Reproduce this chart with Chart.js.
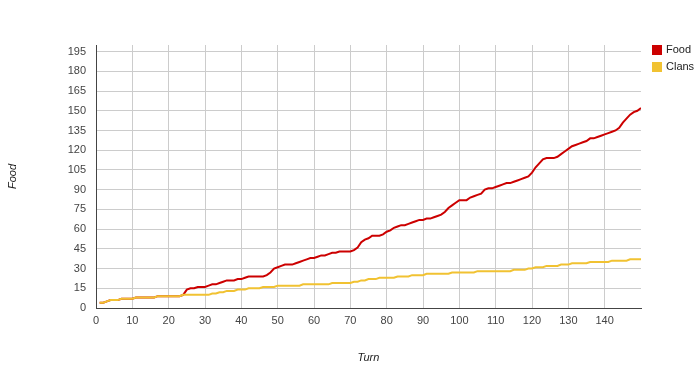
<!DOCTYPE html>
<html>
<head>
<meta charset="utf-8">
<script src="https://cdn.jsdelivr.net/npm/chart.js@4.4.0/dist/chart.umd.min.js"></script>
<style>
  html, body { margin: 0; padding: 0; background: #fff; }
  #wrap { width: 700px; height: 378px; }
</style>
</head>
<body>
<div id="wrap"><canvas id="chart" width="700" height="378"></canvas></div>
<script>
const food = [
    4, 4, 5, 6, 6, 6, 7, 7, 7, 7,
    8, 8, 8, 8, 8, 8, 9, 9, 9, 9,
    9, 9, 9, 10, 14, 15, 15, 16, 16, 16,
    17, 18, 18, 19, 20, 21, 21, 21, 22, 22,
    23, 24, 24, 24, 24, 24, 25, 27, 30, 31,
    32, 33, 33, 33, 34, 35, 36, 37, 38, 38,
    39, 40, 40, 41, 42, 42, 43, 43, 43, 43,
    44, 46, 50, 52, 53, 55, 55, 55, 56, 58,
    59, 61, 62, 63, 63, 64, 65, 66, 67, 67,
    68, 68, 69, 70, 71, 73, 76, 78, 80, 82,
    82, 82, 84, 85, 86, 87, 90, 91, 91, 92,
    93, 94, 95, 95, 96, 97, 98, 99, 100, 103,
    107, 110, 113, 114, 114, 114, 115, 117, 119, 121,
    123, 124, 125, 126, 127, 129, 129, 130, 131, 132,
    133, 134, 135, 137, 141, 144, 147, 149, 150, 152
];
const clans = [
    4, 4, 5, 6, 6, 6, 7, 7, 7, 7,
    8, 8, 8, 8, 8, 8, 9, 9, 9, 9,
    9, 9, 9, 10, 10, 10, 10, 10, 10, 10,
    10, 11, 11, 12, 12, 13, 13, 13, 14, 14,
    14, 15, 15, 15, 15, 16, 16, 16, 16, 17,
    17, 17, 17, 17, 17, 17, 18, 18, 18, 18,
    18, 18, 18, 18, 19, 19, 19, 19, 19, 19,
    20, 20, 21, 21, 22, 22, 22, 23, 23, 23,
    23, 23, 24, 24, 24, 24, 25, 25, 25, 25,
    26, 26, 26, 26, 26, 26, 26, 27, 27, 27,
    27, 27, 27, 27, 28, 28, 28, 28, 28, 28,
    28, 28, 28, 28, 29, 29, 29, 29, 30, 30,
    31, 31, 31, 32, 32, 32, 32, 33, 33, 33,
    34, 34, 34, 34, 34, 35, 35, 35, 35, 35,
    35, 36, 36, 36, 36, 36, 37, 37, 37, 37
];
const turns = food.map((_, i) => i + 1);
const xTicks = [0, 10, 20, 30, 40, 50, 60, 70, 80, 90, 100, 110, 120, 130, 140];
const yTicks = [0, 15, 30, 45, 60, 75, 90, 105, 120, 135, 150, 165, 180, 195];

const FONT = "Arial, 'Liberation Sans', sans-serif";

// legend drawn top-right like the original
const sideLegend = {
    id: "sideLegend",
    afterDraw(chart) {
        const ctx = chart.ctx;
        ctx.save();
        ctx.font = "11px " + FONT;
        ctx.textBaseline = "middle";
        chart.data.datasets.forEach((ds, i) => {
            const y = 50 + i * 17;
            ctx.fillStyle = ds.borderColor;
            ctx.fillRect(652, y - 5, 10, 10);
            ctx.fillStyle = "#222";
            ctx.fillText(ds.label, 666, y);
        });
        ctx.restore();
    }
};

new Chart(document.getElementById("chart").getContext("2d"), {
    type: "line",
    data: {
        labels: turns,
        datasets: [
            { label: "Food", data: food, borderColor: "#cc0000", backgroundColor: "#cc0000", order: 2 },
            { label: "Clans", data: clans, borderColor: "#f1c232", backgroundColor: "#f1c232", order: 1 }
        ]
    },
    options: {
        responsive: false,
        animation: false,
        layout: { padding: { top: 45, right: 59, left: 0, bottom: 0 } },
        elements: {
            line: { borderWidth: 2, tension: 0, fill: false },
            point: { radius: 0, hoverRadius: 0 }
        },
        plugins: { legend: { display: false }, tooltip: { enabled: false } },
        scales: {
            x: {
                type: "linear",
                min: 0,
                max: 150,
                afterBuildTicks: s => { s.ticks = xTicks.map(v => ({ value: v })); },
                afterFit: s => { s.height = 70; },
                grid: { color: "#cccccc", drawTicks: false },
                border: { color: "#444", width: 1 },
                ticks: { padding: 6, color: "#444", font: { size: 11, family: FONT }, maxRotation: 0 },
                title: {
                    display: true, text: "Turn", color: "#222",
                    font: { size: 11, style: "italic", family: FONT },
                    padding: { top: 13, bottom: 13 }
                }
            },
            y: {
                min: 0,
                max: 200,
                afterBuildTicks: s => { s.ticks = yTicks.map(v => ({ value: v })); },
                afterFit: s => { s.width = 96; },
                grid: { color: "#cccccc", drawTicks: false },
                border: { color: "#444", width: 1 },
                ticks: { padding: 10, color: "#444", font: { size: 11, family: FONT } },
                title: {
                    display: true, text: "Food", color: "#222",
                    font: { size: 11, style: "italic", family: FONT },
                    padding: { top: 6, bottom: 4 }
                }
            }
        }
    },
    plugins: [sideLegend]
});
</script>
</body>
</html>
